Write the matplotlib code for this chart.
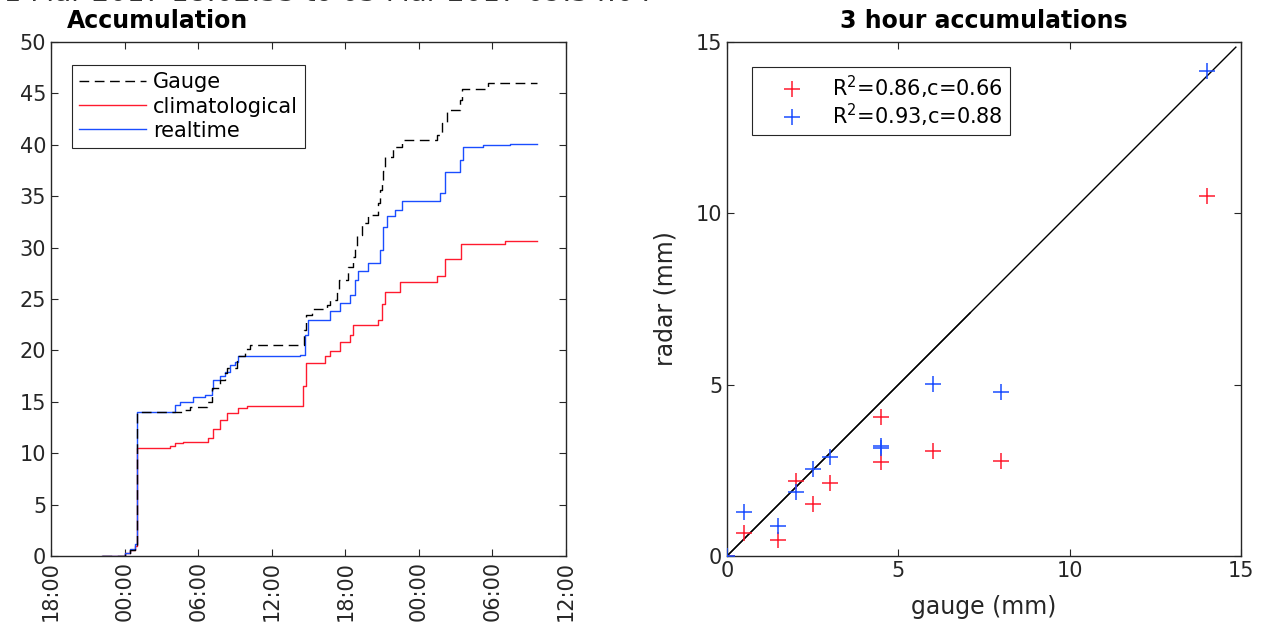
import datetime as dt
import numpy as np
import matplotlib
matplotlib.use('Agg')
import matplotlib.pyplot as plt
import matplotlib.dates as mdates

# ── Accumulation time series (hours after 01 Mar 2017 18:00, mm) ─────────────
T0 = dt.datetime(2017, 3, 1, 18, 0)

gauge_h = [4.13, 6.03, 6.44, 6.85, 7.05, 10.68, 11.34, 12.72, 13.13, 13.78,
           14.19, 14.35, 15.17, 15.82, 16.23, 20.60, 20.80, 21.29, 22.51, 22.75,
           23.32, 23.49, 24.22, 24.63, 24.79, 24.96, 25.36, 25.85, 26.67, 26.83,
           26.99, 27.08, 27.24, 27.89, 28.63, 31.48, 31.89, 32.30, 33.36, 33.52,
           35.64, 39.63]
gauge_mm = [0.0, 0.3, 0.6, 1.1, 14.0, 14.2, 14.5, 15.0, 16.3, 17.1,
            17.8, 18.3, 19.5, 20.1, 20.5, 22.0, 23.4, 24.0, 24.4, 24.9,
            25.9, 26.8, 28.1, 29.1, 30.0, 31.2, 32.4, 33.2, 34.3, 35.6,
            36.3, 37.5, 38.8, 39.8, 40.5, 41.0, 42.1, 43.4, 44.4, 45.4,
            46.0, 46.0]

clim_h = [4.13, 6.03, 6.44, 6.85, 7.01, 9.70, 10.11, 10.76, 12.80, 13.21,
          13.78, 14.35, 15.25, 15.98, 20.55, 20.80, 22.35, 22.75, 23.57, 24.38,
          24.63, 26.67, 26.99, 27.24, 28.46, 31.48, 32.13, 33.44, 37.02, 39.63]
clim_mm = [0.0, 0.3, 0.6, 1.0, 10.5, 10.7, 11.0, 11.1, 11.5, 12.4,
           13.2, 13.9, 14.4, 14.6, 16.5, 18.8, 19.5, 19.9, 20.8, 21.5,
           22.5, 23.0, 24.5, 25.7, 26.7, 27.2, 28.9, 30.35, 30.6, 30.6]

real_h = [4.13, 6.03, 6.44, 6.85, 7.01, 10.11, 10.52, 11.58, 12.56, 13.13,
          13.21, 13.78, 14.19, 14.60, 15.01, 15.25, 20.31, 20.71, 20.96, 22.75,
          23.57, 24.38, 24.79, 25.04, 25.85, 26.83, 27.08, 27.40, 28.05, 28.63,
          31.72, 32.13, 33.36, 33.60, 35.23, 37.43, 39.63]
real_mm = [0.0, 0.3, 0.7, 1.2, 14.0, 14.7, 15.0, 15.5, 15.7, 16.2,
           17.1, 17.5, 17.9, 18.6, 18.9, 19.5, 19.6, 21.5, 23.0, 23.8,
           24.6, 25.4, 26.8, 27.7, 28.5, 29.8, 32.0, 33.1, 33.7, 34.5,
           35.3, 37.4, 38.5, 39.8, 40.0, 40.1, 40.1]

# ── 3-hour accumulations: gauge vs radar (mm) ────────────────────────────────
gauge_3h = [0.0, 0.5, 1.5, 2.0, 2.5, 3.0, 4.5, 4.5, 6.0, 8.0, 14.0]
radar_clim = [0.0, 0.68, 0.47, 2.20, 1.52, 2.14, 4.05, 2.75, 3.06, 2.78, 10.5]
radar_real = [0.0, 1.27, 0.88, 1.86, 2.53, 2.90, 3.21, 3.14, 5.02, 4.78, 14.15]
label_clim = 'R$^2$=0.86,c=0.66'
label_real = 'R$^2$=0.93,c=0.88'
one_to_one = [(0, 7.1), (0, 14.85)]

RED = '#ff1a2e'
BLUE = '#1a4dff'
AX_COL = '#262626'

plt.rcParams['font.family'] = 'DejaVu Sans'


def to_time(hours):
    return [T0 + dt.timedelta(hours=h) for h in hours]


def style_axes(ax):
    ax.tick_params(direction='in', top=True, right=True, length=5,
                   labelsize=15, colors=AX_COL)
    for s in ax.spines.values():
        s.set_color(AX_COL)
        s.set_linewidth(1.0)


fig = plt.figure(figsize=(12.63, 6.30), dpi=100)
fig.patch.set_facecolor('white')

# header line, mostly above the canvas
fig.text(652 / 1263, 1 - 0.6 / 630, '01 Mar 2017 18:02:53 to 03 Mar 2017 09:54:04',
         ha='right', va='baseline', fontsize=20, color='#333333')

# ── Left: accumulation time series ───────────────────────────────────────────
ax1 = fig.add_axes([51 / 1263, 1 - 556 / 630, 515 / 1263, 514 / 630])
ax1.plot(to_time(gauge_h), gauge_mm, drawstyle='steps-post', color='black',
         lw=1.0, ls=(0, (7, 4)), label='Gauge', zorder=4)
ax1.plot(to_time(clim_h), clim_mm, drawstyle='steps-post', color=RED,
         lw=1.0, label='climatological', zorder=2)
ax1.plot(to_time(real_h), real_mm, drawstyle='steps-post', color=BLUE,
         lw=1.0, label='realtime', zorder=3)
ax1.set_xlim(T0, T0 + dt.timedelta(hours=42))
ax1.set_ylim(0, 50)
ax1.set_yticks(np.arange(0, 51, 5))
ax1.xaxis.set_major_locator(mdates.HourLocator(byhour=[0, 6, 12, 18]))
ax1.xaxis.set_major_formatter(mdates.DateFormatter('%H:%M'))
style_axes(ax1)
for lbl in ax1.get_xticklabels():
    lbl.set_rotation(90)
ax1.text(16 / 515, 1.018, 'Accumulation', transform=ax1.transAxes,
         fontsize=17, fontweight='bold', ha='left', va='bottom')
leg1 = ax1.legend(loc='upper left', bbox_to_anchor=(0.04, 0.955),
                  borderaxespad=0, fancybox=False, framealpha=1,
                  edgecolor=AX_COL, fontsize=15, handlelength=3.2,
                  handletextpad=0.35, labelspacing=0.2, borderpad=0.35)
leg1.get_frame().set_linewidth(0.8)

# ── Right: gauge vs radar scatter ────────────────────────────────────────────
ax2 = fig.add_axes([727 / 1263, 1 - 556 / 630, 514 / 1263, 514 / 630])
for x_end in one_to_one:
    ax2.plot(x_end, x_end, color='black', lw=1.0, zorder=1)
ax2.plot(gauge_3h, radar_clim, ls='none', marker='+', ms=12, mew=1.1,
         color=RED, label=label_clim, zorder=2)
ax2.plot(gauge_3h, radar_real, ls='none', marker='+', ms=12, mew=1.1,
         color=BLUE, label=label_real, zorder=3)
ax2.set_xlim(0, 15)
ax2.set_ylim(0, 15)
ax2.set_xticks([0, 5, 10, 15])
ax2.set_yticks([0, 5, 10, 15])
style_axes(ax2)
ax2.set_xlabel('gauge (mm)', fontsize=17, color=AX_COL, labelpad=10)
ax2.set_ylabel('radar (mm)', fontsize=17, color=AX_COL, labelpad=13)
ax2.set_title('3 hour accumulations', fontsize=17, fontweight='bold', pad=10)
leg2 = ax2.legend(loc='upper left', bbox_to_anchor=(0.049, 0.951),
                  borderaxespad=0, fancybox=False, framealpha=1,
                  edgecolor=AX_COL, fontsize=15, handlelength=3.2,
                  handletextpad=0.35, labelspacing=0.05, borderpad=0.3)
leg2.get_frame().set_linewidth(0.8)

fig.savefig('out.png', dpi=100)
